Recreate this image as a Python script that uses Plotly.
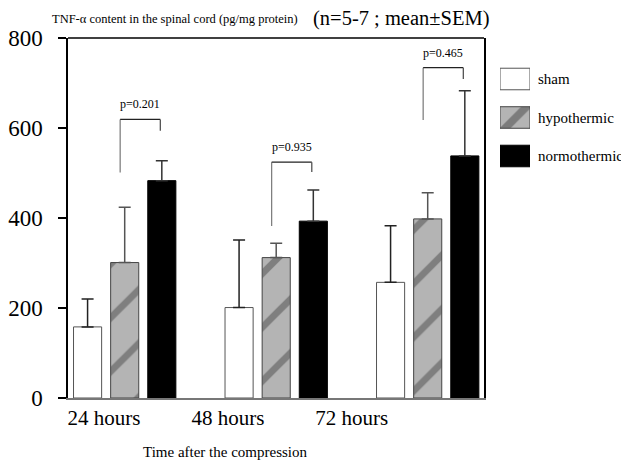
import plotly.graph_objects as go

# ---- data ----
categories = ["24 hours", "48 hours", "72 hours"]
series_names = ["sham", "hypothermic", "normothermic"]
sham_mean = [158, 201, 257]
sham_sem = [62, 150, 126]
hypo_mean = [301, 312, 398]
hypo_sem = [123, 32, 58]
normo_mean = [483, 393, 538]
normo_sem = [44, 69, 145]
p_labels = ["p=0.201", "p=0.935", "p=0.465"]
bracket_top = [619, 524, 734]
bracket_left_bottom = [501, 382, 618]
bracket_right_bottom = [594, 502, 709]
y_ticks = [0, 200, 400, 600, 800]
title_small = "TNF-α content in the spinal cord (pg/mg protein)"
title_big = "(n=5-7 ; mean±SEM)"
x_title = "Time after the compression"

FONT = "Liberation Serif, Times New Roman, serif"
OFF = 8  # page body margin of the html page
W, H = 629 - OFF, 464 - OFF
ML, MT = 68 - OFF, 38 - OFF
PH = 360
MR = 10
MB = H - MT - PH
PW = W - ML - MR


def sx(px):  # screen x -> paper fraction
    return (px - OFF - ML) / PW


def sy(py):  # screen y -> paper fraction
    return 1 - (py - OFF - MT) / PH


x_idx = list(range(len(categories)))

styles = [
    dict(color="white", line=dict(color="#555", width=1)),
    dict(color="#a9a9a9", line=dict(color="#444", width=1),
         pattern=dict(shape="/", fgcolor="#4a4a4a", bgcolor="#b4b4b4", size=38, solidity=0.18)),
    dict(color="black", line=dict(color="black", width=1)),
]
means = [sham_mean, hypo_mean, normo_mean]
sems = [sham_sem, hypo_sem, normo_sem]
err_colors = ["#222", "#555", "#333"]

fig = go.Figure()
for name, m, s, st, ec in zip(series_names, means, sems, styles, err_colors):
    fig.add_trace(go.Bar(
        x=x_idx, y=m, name=name, marker=st, showlegend=False,
        error_y=dict(type="data", array=s, arrayminus=[0] * len(s), symmetric=False,
                     color=ec, thickness=1.5, width=6),
        xaxis="x", yaxis="y",
    ))

# legend drawn as a small bar chart on its own axes
fig.add_trace(go.Bar(
    x=[1] * len(series_names), y=list(range(len(series_names))), orientation="h",
    width=0.56, showlegend=False, hoverinfo="skip",
    marker=dict(
        color=["white", "#b4b4b4", "black"],
        line=dict(color=["#555", "#444", "black"], width=1),
        pattern=dict(shape=["", "/", ""], fgcolor=["white", "#4a4a4a", "black"],
                     bgcolor=["white", "#b4b4b4", "black"], size=26, solidity=0.3),
    ),
    xaxis="x2", yaxis="y2",
))

main_w = 416 / PW
px_per_unit = 151.5
zero_px = 56.7
x_range = [-zero_px / px_per_unit, (416 - zero_px) / px_per_unit]
label_offset = -0.137
label_step = 0.818

annotations = []
shapes = []
for i, (pl, top, lb, rb) in enumerate(zip(p_labels, bracket_top, bracket_left_bottom, bracket_right_bottom)):
    xl = i - 0.03
    xr = i + 0.235
    shapes.append(dict(type="line", xref="x", yref="y", x0=xl, x1=xl, y0=lb, y1=top,
                       line=dict(color="#777", width=1.2)))
    shapes.append(dict(type="line", xref="x", yref="y", x0=xl, x1=xr, y0=top, y1=top,
                       line=dict(color="#222", width=1.2)))
    shapes.append(dict(type="line", xref="x", yref="y", x0=xr, x1=xr, y0=rb, y1=top,
                       line=dict(color="#444", width=1.2)))
    annotations.append(dict(xref="x", yref="y", x=(xl + xr) / 2, y=top, text=pl,
                            showarrow=False, yanchor="bottom", yshift=6,
                            font=dict(family=FONT, size=12, color="black")))

# top frame line
shapes.append(dict(type="line", xref="x domain", yref="y domain", x0=0, x1=1, y0=1, y1=1,
                   line=dict(color="black", width=1.5)))

for i, nm in enumerate(series_names):
    annotations.append(dict(xref="x2", yref="y2", x=1, y=i, text=nm, showarrow=False,
                            xanchor="left", xshift=6,
                            font=dict(family=FONT, size=15, color="black")))

annotations.append(dict(xref="paper", yref="paper", x=sx(50), y=sy(19),
                        xanchor="left", yanchor="middle", showarrow=False,
                        text=title_small, font=dict(family=FONT, size=12.5, color="black")))
annotations.append(dict(xref="paper", yref="paper", x=sx(311), y=sy(19),
                        xanchor="left", yanchor="middle", showarrow=False,
                        text=title_big, font=dict(family=FONT, size=20.5, color="black")))
annotations.append(dict(xref="paper", yref="paper", x=sx(225), y=sy(452),
                        xanchor="center", yanchor="middle", showarrow=False,
                        text=x_title, font=dict(family=FONT, size=15, color="black")))

fig.update_layout(
    width=W, height=H,
    margin=dict(l=ML, r=MR, t=MT, b=MB, autoexpand=False),
    paper_bgcolor="white", plot_bgcolor="white",
    barmode="group", bargap=0.265, bargroupgap=0.243,
    font=dict(family=FONT, color="black"),
    xaxis=dict(domain=[0, main_w], range=x_range, automargin=False,
               tickvals=[label_offset + label_step * i for i in x_idx], ticktext=categories,
               ticks="", showgrid=False, zeroline=False, showline=True, linecolor="#777", linewidth=1.5,
               tickfont=dict(family=FONT, size=21), anchor="y"),
    yaxis=dict(range=[0, 800], tickvals=y_ticks, ticks="outside", ticklen=8, tickwidth=1.5,
               tickcolor="black", showgrid=False, zeroline=False, showline=True, mirror=True,
               automargin=False,
               linecolor="black", linewidth=1.5, tickfont=dict(family=FONT, size=23),
               ticklabelstandoff=11, anchor="x"),
    xaxis2=dict(domain=[sx(500), sx(530)], range=[0, 1], visible=False, anchor="y2"),
    yaxis2=dict(domain=[sy(175.25), sy(59.75)], range=[2.5, -0.5], visible=False, anchor="x2"),
    shapes=shapes, annotations=annotations,
)

fig.write_html("out.html")
